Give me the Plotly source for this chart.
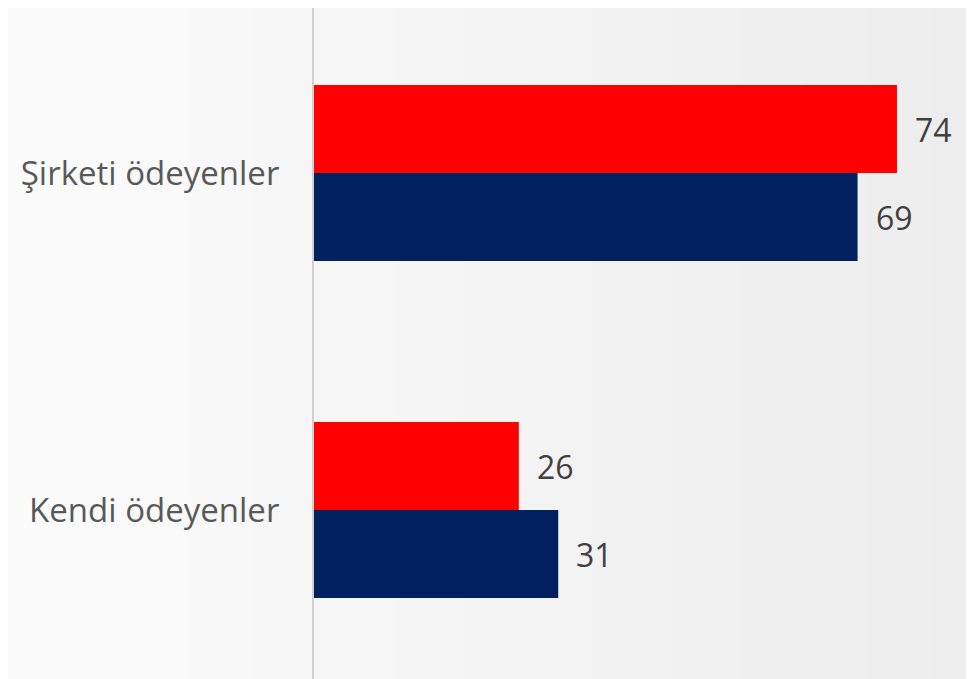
import plotly.graph_objects as go

categories = ["Kendi ödeyenler", "Şirketi ödeyenler"]
navy_values = [31, 69]
red_values = [26, 74]

NAVY = "#002060"
RED = "#FF0000"

fig = go.Figure()
fig.add_trace(go.Bar(y=categories, x=navy_values, orientation="h",
                     marker=dict(color=NAVY, line=dict(width=0)), name="b"))
fig.add_trace(go.Bar(y=categories, x=red_values, orientation="h",
                     marker=dict(color=RED, line=dict(width=0)), name="a"))

LABEL_FONT = dict(family="Open Sans", size=32, color="#404040")

ann = []
for c, v in zip(categories, navy_values):
    ann.append(dict(x=v, y=c, yshift=-44, xshift=16, text=str(v), showarrow=False,
                    xanchor="left", yanchor="middle", font=LABEL_FONT))
for c, v in zip(categories, red_values):
    ann.append(dict(x=v, y=c, yshift=44, xshift=16, text=str(v), showarrow=False,
                    xanchor="left", yanchor="middle", font=LABEL_FONT))

# background gradient (style only)
L, W = 306, 668
shapes = []
n = 60
for i in range(n):
    t = i / (n - 1)
    g = int(round(251 - (251 - 237) * t))
    shapes.append(dict(type="rect", xref="paper", yref="paper", layer="below",
                       x0=-L / W + ((L + W) / W) * i / n,
                       x1=-L / W + ((L + W) / W) * (i + 1) / n + 0.002,
                       y0=-0.02, y1=1.02, fillcolor=f"rgb({g},{g},{g})",
                       line=dict(width=0)))

top = 1 + 165 / 337
bottom = top - 679 / 337

fig.update_layout(
    width=974, height=679,
    margin=dict(l=L, r=0, t=0, b=0),
    barmode="group", bargap=0.478, bargroupgap=0,
    showlegend=False,
    paper_bgcolor="#f6f6f6", plot_bgcolor="rgba(0,0,0,0)",
    annotations=ann, shapes=shapes,
    xaxis=dict(range=[0, W / 7.878], showgrid=False, zeroline=False,
               showticklabels=False, showline=False, fixedrange=True),
    yaxis=dict(categoryorder="array", categoryarray=categories,
               range=[bottom, top], showgrid=False, zeroline=False,
               showline=True, linecolor="#d0d0d0", linewidth=2,
               ticks="", ticklabelstandoff=26,
               tickfont=dict(family="Open Sans", size=33, color="#595959")),
)

fig.write_html("out.html")
